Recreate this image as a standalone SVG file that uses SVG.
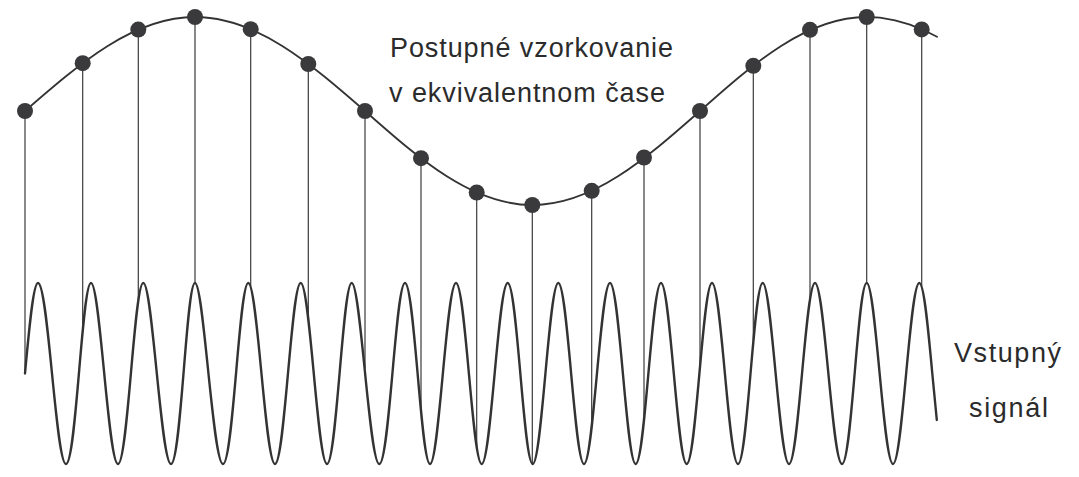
<svg xmlns="http://www.w3.org/2000/svg" width="1079" height="477" viewBox="0 0 1079 477">
<style>
.bg{fill:#ffffff}
.slow{fill:none;stroke:#333;stroke-width:1.8;stroke-linejoin:round;stroke-linecap:round}
.fast{fill:none;stroke:#333;stroke-width:2.4;stroke-linejoin:round;stroke-linecap:round}
.conn line{stroke:#3a3a3a;stroke-width:1.2}
.dot{fill:#3a3a3c}
.lbl{font-family:"Liberation Sans",Arial,sans-serif;font-size:27px;fill:#2b2b2b}
</style>
<rect class="bg" x="0" y="0" width="1079" height="477"/>
<g id="connectors" class="conn">
<line x1="25" y1="111" x2="25" y2="373.5"/>
<line x1="82.7" y1="63.2" x2="82.7" y2="327.9"/>
<line x1="138.3" y1="29.6" x2="138.3" y2="299.9"/>
<line x1="195" y1="17" x2="195" y2="283"/>
<line x1="250.7" y1="29.2" x2="250.7" y2="286.6"/>
<line x1="308.3" y1="64" x2="308.3" y2="317.8"/>
<line x1="365" y1="111" x2="365" y2="368.4"/>
<line x1="421" y1="158.2" x2="421" y2="412.1"/>
<line x1="476.7" y1="192.5" x2="476.7" y2="447.5"/>
<line x1="532.3" y1="205" x2="532.3" y2="464"/>
<line x1="591.7" y1="190.8" x2="591.7" y2="427.6"/>
<line x1="644" y1="157.5" x2="644" y2="419.9"/>
<line x1="700" y1="111" x2="700" y2="366.1"/>
<line x1="753.3" y1="65.8" x2="753.3" y2="340.3"/>
<line x1="810" y1="29.8" x2="810" y2="298.9"/>
<line x1="866.7" y1="17" x2="866.7" y2="283"/>
<line x1="921.7" y1="29.4" x2="921.7" y2="286.8"/>
</g>
<g id="equivalent-time-curve">
<path class="slow" d="M25,111 C80.44,62.84 133.48,17 195,17 C256.52,17 309.56,62.84 365,111 C419.56,159.16 471.75,205 532.3,205 C592.99,205 645.31,159.16 700,111 C754.36,62.84 806.37,17 866.7,17 L880,17.7 L895,20.3 L910,24.7 L925,30.8 L937,36.8"/>
</g>
<g id="input-signal">
<path class="fast" d="M25,373.5 C29.24,327.14 33.3,283 38,283 C48.18,283 55.82,464 66,464 S81.92,283 91,283 S108.19,464 118,464 S134.11,283 143.3,283 S160.93,464 171,464 S186.28,283 195,283 S212.82,464 223,464 S239.11,283 248.3,283 S265.3,464 275,464 S291.36,283 300.7,283 S317.44,464 327,464 S342.72,283 351.7,283 S369.27,464 379.3,464 S395.66,283 405,283 S420.92,464 430,464 S446.55,283 456,283 S472.36,464 481.7,464 S498.25,283 507.7,283 S523.62,464 532.7,464 S549,283 558.3,283 S574.66,464 584,464 S600.55,283 610,283 S626.36,464 635.7,464 S651.81,283 661,283 S677.36,464 686.7,464 S702.81,283 712,283 S728.55,464 738,464 S753.72,283 762.7,283 S779.44,464 789,464 S805.55,283 815,283 S832.19,464 842,464 S857.72,283 866.7,283 S883.44,464 893,464 S909.74,283 919.3,283 C924,283 928.06,327.14 932.3,373.5 L936.8,420"/>
</g>
<g id="samples">
<circle id="s0" class="dot" cx="25" cy="111" r="8"/>
<circle id="s1" class="dot" cx="82.7" cy="63.2" r="8"/>
<circle id="s2" class="dot" cx="138.3" cy="29.6" r="8"/>
<circle id="s3" class="dot" cx="195" cy="17" r="8"/>
<circle id="s4" class="dot" cx="250.7" cy="29.2" r="8"/>
<circle id="s5" class="dot" cx="308.3" cy="64" r="8"/>
<circle id="s6" class="dot" cx="365" cy="111" r="8"/>
<circle id="s7" class="dot" cx="421" cy="158.2" r="8"/>
<circle id="s8" class="dot" cx="476.7" cy="192.5" r="8"/>
<circle id="s9" class="dot" cx="532.3" cy="205" r="8"/>
<circle id="s10" class="dot" cx="591.7" cy="190.8" r="8"/>
<circle id="s11" class="dot" cx="644" cy="157.5" r="8"/>
<circle id="s12" class="dot" cx="700" cy="111" r="8"/>
<circle id="s13" class="dot" cx="753.3" cy="65.8" r="8"/>
<circle id="s14" class="dot" cx="810" cy="29.8" r="8"/>
<circle id="s15" class="dot" cx="866.7" cy="17" r="8"/>
<circle id="s16" class="dot" cx="921.7" cy="29.4" r="8"/>
</g>
<g id="title-label">
<text class="lbl" x="390" y="57" textLength="283" lengthAdjust="spacing">Postupné vzorkovanie</text>
<text class="lbl" x="389" y="102" textLength="276" lengthAdjust="spacing">v ekvivalentnom čase</text>
</g>
<g id="input-label">
<text class="lbl" x="954" y="362" textLength="107" lengthAdjust="spacing">Vstupný</text>
<text class="lbl" x="969" y="417" textLength="79" lengthAdjust="spacing">signál</text>
</g>
</svg>
